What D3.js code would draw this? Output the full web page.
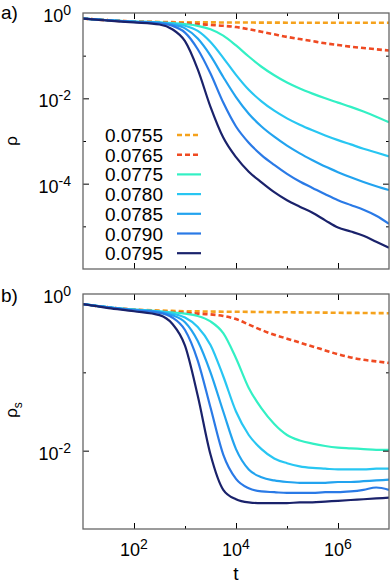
<!DOCTYPE html>
<html><head><meta charset="utf-8">
<script src="https://cdn.jsdelivr.net/npm/d3@7"></script>
<style>
body{margin:0;background:#fff}
svg{display:block}
text{font-family:"Liberation Sans",Arial,sans-serif;fill:#000}
</style>
</head><body>
<svg id="chart" width="390" height="586"></svg>
<script>
// ---------- data (log10 of t, log10 of values) ----------
const logT = [1, 1.5, 2, 2.5, 2.75, 3, 3.25, 3.5, 3.75, 4, 4.25, 4.5, 4.75, 5, 5.25, 5.5, 5.75, 6, 6.25, 6.5, 6.75, 7];
const labels = ["0.0755", "0.0765", "0.0775", "0.0780", "0.0785", "0.0790", "0.0795"];

// panel a) rho
const rhoA0755 = [-0.13,-0.17,-0.20,-0.21,-0.215,-0.22,-0.22,-0.22,-0.222,-0.223,-0.224,-0.225,-0.226,-0.227,-0.228,-0.228,-0.229,-0.23,-0.23,-0.23,-0.23,-0.23];
const rhoA0765 = [-0.13,-0.17,-0.20,-0.22,-0.23,-0.245,-0.26,-0.28,-0.30,-0.33,-0.38,-0.44,-0.50,-0.56,-0.61,-0.66,-0.71,-0.75,-0.79,-0.82,-0.85,-0.88];
const rhoA0775 = [-0.13,-0.17,-0.20,-0.22,-0.235,-0.26,-0.30,-0.38,-0.53,-0.76,-1.02,-1.26,-1.46,-1.63,-1.77,-1.89,-2.00,-2.10,-2.20,-2.31,-2.43,-2.56];
const rhoA0780 = [-0.13,-0.17,-0.20,-0.225,-0.25,-0.30,-0.42,-0.68,-1.05,-1.45,-1.80,-2.07,-2.29,-2.47,-2.62,-2.75,-2.87,-2.98,-3.08,-3.18,-3.27,-3.36];
const rhoA0785 = [-0.13,-0.17,-0.205,-0.23,-0.27,-0.36,-0.60,-1.00,-1.50,-1.97,-2.36,-2.66,-2.90,-3.11,-3.29,-3.45,-3.60,-3.73,-3.85,-3.96,-4.06,-4.15];
const rhoA0790 = [-0.13,-0.17,-0.21,-0.24,-0.30,-0.46,-0.85,-1.42,-2.10,-2.66,-3.04,-3.33,-3.56,-3.77,-3.95,-4.10,-4.25,-4.39,-4.50,-4.61,-4.75,-4.94];
const rhoA0795 = [-0.13,-0.18,-0.22,-0.27,-0.38,-0.66,-1.32,-2.20,-2.92,-3.38,-3.72,-3.97,-4.20,-4.39,-4.54,-4.68,-4.86,-5.03,-5.12,-5.22,-5.36,-5.50];

// panel b) rho_s
const rhoB0755 = [-0.13,-0.17,-0.20,-0.21,-0.215,-0.22,-0.222,-0.224,-0.226,-0.227,-0.228,-0.23,-0.232,-0.233,-0.235,-0.236,-0.238,-0.24,-0.241,-0.242,-0.244,-0.245];
const rhoB0765 = [-0.13,-0.17,-0.20,-0.22,-0.23,-0.24,-0.25,-0.26,-0.28,-0.32,-0.39,-0.46,-0.52,-0.57,-0.62,-0.67,-0.72,-0.77,-0.81,-0.84,-0.86,-0.88];
const rhoB0775 = [-0.13,-0.17,-0.20,-0.22,-0.235,-0.25,-0.28,-0.35,-0.50,-0.82,-1.20,-1.46,-1.66,-1.80,-1.87,-1.91,-1.94,-1.96,-1.97,-1.98,-1.99,-1.99];
const rhoB0780 = [-0.13,-0.17,-0.20,-0.225,-0.25,-0.30,-0.42,-0.65,-1.05,-1.50,-1.80,-1.98,-2.10,-2.16,-2.20,-2.22,-2.23,-2.24,-2.24,-2.24,-2.23,-2.23];
const rhoB0785 = [-0.13,-0.17,-0.205,-0.23,-0.27,-0.36,-0.60,-1.00,-1.50,-1.98,-2.24,-2.34,-2.38,-2.40,-2.41,-2.41,-2.41,-2.40,-2.40,-2.39,-2.38,-2.37];
const rhoB0790 = [-0.13,-0.17,-0.21,-0.24,-0.30,-0.46,-0.85,-1.45,-2.05,-2.36,-2.48,-2.52,-2.53,-2.54,-2.54,-2.54,-2.53,-2.53,-2.52,-2.50,-2.47,-2.50];
const rhoB0795 = [-0.13,-0.18,-0.22,-0.27,-0.38,-0.66,-1.30,-2.05,-2.50,-2.62,-2.66,-2.67,-2.67,-2.67,-2.66,-2.66,-2.65,-2.64,-2.63,-2.62,-2.61,-2.60];

const xTickExps = [2, 4, 6];
const xMinorExps = [3, 5];
const yTickExpsA = [0, -2, -4];
const yMinorExpsA = [-1, -3, -5];
const yTickExpsB = [0, -2];
const yMinorExpsB = [-1];

// ---------- styles ----------
const colors = ["#f5a21c", "#ef4a22", "#33f0c4", "#28c6f2", "#22a3ef", "#2a7ae6", "#1a226b"];
const isDashed = [true, true, false, false, false, false, false];

const svg = d3.select("#chart");
const L = 83, R = 389;
const x = d3.scaleLog().domain([1e1, 1e7]).range([L, R]);

const seriesA = [rhoA0755, rhoA0765, rhoA0775, rhoA0780, rhoA0785, rhoA0790, rhoA0795];
const seriesB = [rhoB0755, rhoB0765, rhoB0775, rhoB0780, rhoB0785, rhoB0790, rhoB0795];

function supLabel(g, xp, yp, exp, anchor) {
  const t = g.append("text").attr("x", xp).attr("y", yp)
    .attr("text-anchor", anchor).style("font-size", "18px");
  t.append("tspan").text("10");
  t.append("tspan").attr("dy", -7).style("font-size", "14px").text(String(exp));
  return t;
}

function panel(top, bottom, yDomain, series, id, yTicks, yMinor, showX) {
  const y = d3.scaleLog().domain(yDomain).range([bottom, top]);
  const g = svg.append("g");
  g.append("clipPath").attr("id", id).append("rect")
    .attr("x", L).attr("y", top).attr("width", R - L).attr("height", bottom - top);

  const line = d3.line()
    .x((d) => x(Math.pow(10, d[0])))
    .y((d) => y(Math.pow(10, d[1])))
    .curve(d3.curveMonotoneX);

  const lines = g.append("g").attr("clip-path", `url(#${id})`);
  series.forEach((vals, i) => {
    const pts = logT.map((lt, k) => [lt, vals[k]]);
    lines.append("path").attr("d", line(pts))
      .attr("fill", "none").attr("stroke", colors[i])
      .attr("stroke-width", isDashed[i] ? 2.6 : 2.2)
      .attr("stroke-dasharray", isDashed[i] ? "5,3" : null)
      .attr("stroke-linejoin", "round");
  });

  const majX = xTickExps.map(e => Math.pow(10, e));
  const minX = xMinorExps.map(e => Math.pow(10, e));
  const tickStyle = sel => { sel.select(".domain").remove(); sel.selectAll("line").attr("stroke", "#000"); };
  g.append("g").attr("transform", `translate(0,${bottom})`).call(d3.axisBottom(x).tickValues(majX).tickSize(-6).tickFormat("")).call(tickStyle);
  g.append("g").attr("transform", `translate(0,${bottom})`).call(d3.axisBottom(x).tickValues(minX).tickSize(-3).tickFormat("")).call(tickStyle);
  g.append("g").attr("transform", `translate(0,${top})`).call(d3.axisTop(x).tickValues(majX).tickSize(-6).tickFormat("")).call(tickStyle);
  g.append("g").attr("transform", `translate(0,${top})`).call(d3.axisTop(x).tickValues(minX).tickSize(-3).tickFormat("")).call(tickStyle);

  const majY = yTicks.filter(e => Math.pow(10, e) < yDomain[1]).map(e => Math.pow(10, e));
  const minY = yMinor.map(e => Math.pow(10, e));
  g.append("g").attr("transform", `translate(${L},0)`).call(d3.axisLeft(y).tickValues(majY).tickSize(-6).tickFormat("")).call(tickStyle);
  g.append("g").attr("transform", `translate(${L},0)`).call(d3.axisLeft(y).tickValues(minY).tickSize(-3).tickFormat("")).call(tickStyle);
  g.append("g").attr("transform", `translate(${R},0)`).call(d3.axisRight(y).tickValues(majY).tickSize(-6).tickFormat("")).call(tickStyle);
  g.append("g").attr("transform", `translate(${R},0)`).call(d3.axisRight(y).tickValues(minY).tickSize(-3).tickFormat("")).call(tickStyle);

  g.append("rect").attr("x", L).attr("y", top).attr("width", R - L).attr("height", bottom - top)
    .attr("fill", "none").attr("stroke", "#666").attr("stroke-width", 1.3);

  yTicks.forEach(e => supLabel(g, 71, y(Math.pow(10, e)) + 9, e, "end"));
  if (showX) {
    xTickExps.forEach(e => supLabel(g, x(Math.pow(10, e)), 556, e, "middle"));
  }
  return { g, y };
}

panel(13, 269, [1e-6, 1], seriesA, "clipA", yTickExpsA, yMinorExpsA, false);
panel(294, 529, [1e-3, 1], seriesB, "clipB", yTickExpsB, yMinorExpsB, true);

// legend in panel a
const leg = svg.append("g");
labels.forEach((lab, i) => {
  const cy = 135 + i * 19.7;
  leg.append("text").attr("x", 163).attr("y", cy + 7).attr("text-anchor", "end")
    .style("font-size", "19px").text(lab);
  leg.append("line").attr("x1", 177).attr("x2", 201).attr("y1", cy).attr("y2", cy)
    .attr("stroke", colors[i]).attr("stroke-width", isDashed[i] ? 2.6 : 2.2)
    .attr("stroke-dasharray", isDashed[i] ? "5,3" : null);
});

// panel letters and axis titles
svg.append("text").attr("x", 1).attr("y", 19).style("font-size", "19px").text("a)");
svg.append("text").attr("x", 1).attr("y", 302).style("font-size", "19px").text("b)");
svg.append("text").attr("transform", "translate(17,141) rotate(-90)").attr("text-anchor", "middle")
  .style("font-size", "17px").text("ρ");
const ys = svg.append("text").attr("transform", "translate(17,410) rotate(-90)").attr("text-anchor", "middle")
  .style("font-size", "17px");
ys.append("tspan").text("ρ");
ys.append("tspan").attr("dy", 5).style("font-size", "12px").text("s");
svg.append("text").attr("x", 236).attr("y", 580).attr("text-anchor", "middle").style("font-size", "19px").text("t");
</script>
</body></html>
